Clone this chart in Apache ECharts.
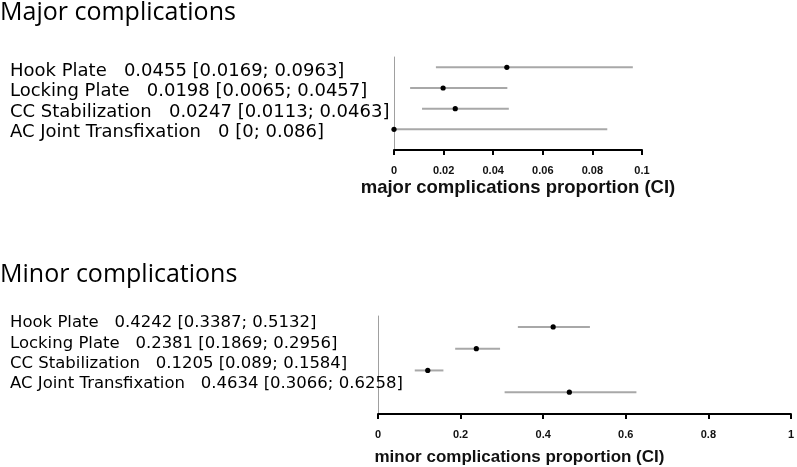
<!DOCTYPE html>
<html>
<head>
<meta charset="utf-8">
<script src="https://cdn.jsdelivr.net/npm/echarts@6/dist/echarts.min.js"></script>
<style>
  html, body { margin: 0; padding: 0; background: #fff; }
  #chart { width: 797px; height: 467px; }
</style>
</head>
<body>
<div id="chart"></div>
<script>
// groups, top to bottom
var groups = ["Hook Plate", "Locking Plate", "CC Stabilization", "AC Joint Transfixation"];

// major complications: proportion and CI
var majorEst = [0.0455, 0.0198, 0.0247, 0];
var majorLow = [0.0169, 0.0065, 0.0113, 0];
var majorHigh = [0.0963, 0.0457, 0.0463, 0.086];
var majorTicks = [0, 0.02, 0.04, 0.06, 0.08, 0.1];

// minor complications: proportion and CI
var minorEst = [0.4242, 0.2381, 0.1205, 0.4634];
var minorLow = [0.3387, 0.1869, 0.089, 0.3066];
var minorHigh = [0.5132, 0.2956, 0.1584, 0.6258];
var minorTicks = [0, 0.2, 0.4, 0.6, 0.8, 1];

function rowLabels(est, low, high) {
  return groups.map(function (g, i) {
    return g + "   " + est[i] + " [" + low[i] + "; " + high[i] + "]";
  });
}

function rowData(est, low, high) {
  return groups.map(function (g, i) {
    return [est[i], low[i], high[i], groups.length - i];
  });
}

function renderCI(params, api) {
  var y = api.value(3);
  var a = api.coord([api.value(1), y]);
  var b = api.coord([api.value(2), y]);
  var c = api.coord([api.value(0), y]);
  return {
    type: "group",
    children: [
      {
        type: "line",
        shape: { x1: a[0], y1: a[1], x2: b[0], y2: b[1] },
        style: { stroke: "#a8a8a8", lineWidth: 2 },
      },
      {
        type: "circle",
        shape: { cx: c[0], cy: c[1], r: 2.6 },
        style: { fill: "#000" },
      },
    ],
  };
}

function valueAxis(gridIndex, ticks, name, nameGap, nameSize, namePad) {
  return {
    gridIndex: gridIndex,
    type: "value",
    min: ticks[0],
    max: ticks[ticks.length - 1],
    interval: ticks[1] - ticks[0],
    name: name,
    nameLocation: "middle",
    nameGap: nameGap,
    nameTextStyle: {
      fontFamily: "Liberation Sans, Arial",
      fontWeight: "bold",
      fontSize: nameSize,
      color: "#111",
      padding: namePad,
    },
    axisLine: { show: true, lineStyle: { color: "#000", width: 2 } },
    axisTick: { show: true, length: 5, lineStyle: { color: "#000", width: 2 } },
    axisLabel: {
      margin: 15,
      fontFamily: "Liberation Sans, Arial",
      fontWeight: "bold",
      fontSize: 11,
      color: "#111",
    },
    splitLine: { show: false },
  };
}

function rowAxis(gridIndex) {
  return {
    gridIndex: gridIndex,
    type: "value",
    min: 0,
    max: 4.5,
    axisLine: { show: true, lineStyle: { color: "#a0a0a0", width: 1 } },
    axisTick: { show: false },
    axisLabel: { show: false },
    splitLine: { show: false },
  };
}

function labelAxis(gridIndex, labels, size) {
  return {
    gridIndex: gridIndex,
    type: "category",
    inverse: true,
    data: labels,
    axisLine: { show: false },
    axisTick: { show: false },
    splitLine: { show: false },
    axisLabel: {
      interval: 0,
      align: "left",
      margin: 0,
      fontFamily: "DejaVu Sans",
      fontSize: size,
      color: "#000",
    },
  };
}

var myChart = echarts.init(document.getElementById("chart"));
myChart.setOption({
  animation: false,
  title: [
    {
      text: "Major complications",
      left: 0,
      top: 0,
      padding: 0,
      textStyle: { fontFamily: "Open Sans", fontWeight: "normal", fontSize: 25, color: "#000" },
    },
    {
      text: "Minor complications",
      left: 0,
      top: 262,
      padding: 0,
      textStyle: { fontFamily: "Open Sans", fontWeight: "normal", fontSize: 25, color: "#000" },
    },
  ],
  grid: [
    { left: 394, width: 248, top: 57, height: 93 },
    { left: 378, width: 417, top: 316, height: 98 },
    { left: 10, width: 300, top: 61, height: 82 },
    { left: 10, width: 300, top: 313, height: 81 },
  ],
  xAxis: [
    valueAxis(0, majorTicks, "major complications proportion (CI)", 28, 18.5, [0, 0, 0, 0]),
    valueAxis(1, minorTicks, "minor complications proportion (CI)", 35, 17, [0, 130, 0, 0]),
    { gridIndex: 2, type: "value", show: false },
    { gridIndex: 3, type: "value", show: false },
  ],
  yAxis: [
    rowAxis(0),
    rowAxis(1),
    labelAxis(2, rowLabels(majorEst, majorLow, majorHigh), 18),
    labelAxis(3, rowLabels(minorEst, minorLow, minorHigh), 16.5),
  ],
  series: [
    {
      type: "custom",
      xAxisIndex: 0,
      yAxisIndex: 0,
      renderItem: renderCI,
      encode: { x: [0, 1, 2], y: 3 },
      data: rowData(majorEst, majorLow, majorHigh),
    },
    {
      type: "custom",
      xAxisIndex: 1,
      yAxisIndex: 1,
      renderItem: renderCI,
      encode: { x: [0, 1, 2], y: 3 },
      data: rowData(minorEst, minorLow, minorHigh),
    },
  ],
});
</script>
</body>
</html>
